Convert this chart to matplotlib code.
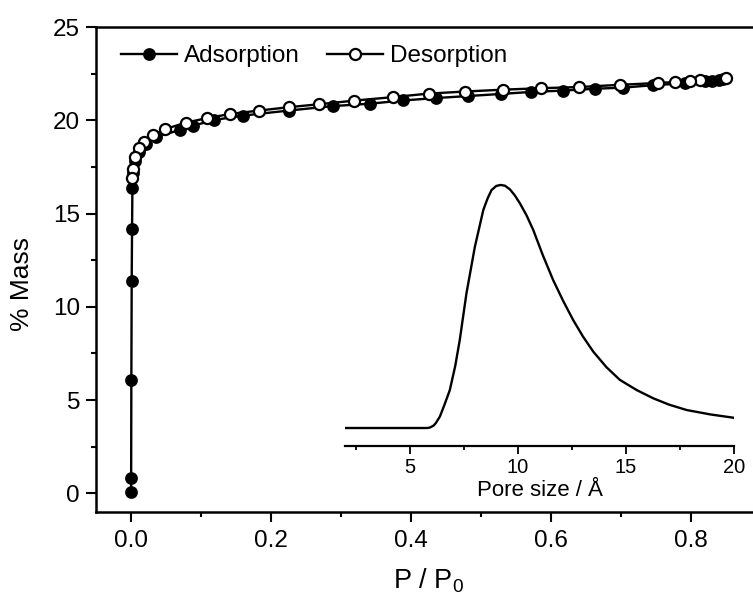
import matplotlib
matplotlib.use("Agg")
import matplotlib.pyplot as plt
from matplotlib.ticker import MultipleLocator

plt.rcParams['font.family'] = ['Liberation Sans', 'DejaVu Sans']
plt.rcParams['mathtext.default'] = 'regular'

# Adsorption (filled) isotherm
ads_p = [0.0001, 0.0002, 0.0005, 0.001, 0.0015, 0.002, 0.003, 0.006, 0.012, 0.022, 0.035,
         0.070, 0.089, 0.118, 0.160, 0.225, 0.288, 0.342, 0.388, 0.435, 0.482, 0.528,
         0.572, 0.617, 0.663, 0.703, 0.746, 0.791, 0.820, 0.830, 0.840, 0.846]
ads_m = [0.05, 0.84, 6.07, 11.41, 14.17, 16.35, 17.2, 17.8, 18.3, 18.75, 19.1,
         19.48, 19.71, 20.01, 20.25, 20.52, 20.76, 20.89, 21.06, 21.19, 21.30, 21.41,
         21.52, 21.59, 21.69, 21.75, 21.88, 21.98, 22.08, 22.12, 22.18, 22.20]

# Desorption (open) isotherm
des_p = [0.850, 0.813, 0.798, 0.777, 0.753, 0.698, 0.640, 0.586, 0.531, 0.477, 0.425,
         0.374, 0.318, 0.269, 0.225, 0.183, 0.142, 0.108, 0.079, 0.049, 0.031, 0.019,
         0.012, 0.0064, 0.0024, 0.001]
des_m = [22.28, 22.16, 22.10, 22.05, 22.00, 21.90, 21.78, 21.72, 21.64, 21.54, 21.43,
         21.24, 21.05, 20.86, 20.70, 20.52, 20.34, 20.11, 19.88, 19.53, 19.20, 18.85,
         18.52, 18.05, 17.38, 16.93]

# Inset: pore size distribution (normalised)
pore_size = [2.0, 3.0, 4.0, 5.0, 5.5, 5.8, 5.93, 6.1, 6.2, 6.39, 6.6, 6.85, 7.1, 7.31, 7.62,
             8.01, 8.40, 8.6, 8.78, 9.0, 9.20, 9.4, 9.63, 9.85, 10.09, 10.4, 10.71, 11.15,
             11.63, 12.1, 12.56, 13.0, 13.49, 14.1, 14.72, 15.5, 16.27, 17.0, 17.81, 18.9, 20.0]
pore_dist = [0.0, 0.0, 0.0, 0.0, 0.0, 0.0, 0.002, 0.01, 0.02, 0.047, 0.095, 0.156, 0.255, 0.362, 0.554,
             0.746, 0.897, 0.945, 0.979, 0.996, 1.0, 0.997, 0.982, 0.958, 0.925, 0.875, 0.815, 0.712,
             0.609, 0.522, 0.444, 0.378, 0.314, 0.250, 0.198, 0.156, 0.122, 0.096, 0.074, 0.056, 0.042]

W, H = 753, 604
fig = plt.figure(figsize=(W / 100, H / 100), dpi=100)

ax = fig.add_axes([96 / W, (H - 512) / H, (761 - 96) / W, (512 - 27) / H])
ax.plot(ads_p, ads_m, '-o', color='black', lw=1.7, ms=8.0, mfc='black', mec='black',
        mew=1.2, label='Adsorption', zorder=3)
ax.plot(des_p, des_m, '-o', color='black', lw=1.7, ms=8.0, mfc='white', mec='black',
        mew=1.6, label='Desorption', zorder=4)

ax.set_xlim(-0.05, 0.9)
ax.set_ylim(-1, 25)
ax.xaxis.set_major_locator(MultipleLocator(0.2))
ax.xaxis.set_minor_locator(MultipleLocator(0.1))
ax.yaxis.set_major_locator(MultipleLocator(5))
ax.yaxis.set_minor_locator(MultipleLocator(2.5))
ax.xaxis.set_major_formatter(matplotlib.ticker.FormatStrFormatter('%.1f'))
ax.tick_params(which='both', direction='out', top=False, right=False, width=1.5,
               labelsize=17.5)
ax.tick_params(which='major', length=7.5, pad=4)
ax.tick_params(which='minor', length=3.5)
ax.tick_params(axis='x', which='major', pad=5.5)
for s in ['left', 'bottom', 'top']:
    ax.spines[s].set_linewidth(1.8)
ax.spines['right'].set_visible(False)

ax.set_ylabel('% Mass', fontsize=19)
ax.yaxis.set_label_coords(-0.093, 0.47)
ax.set_xlabel('P / P$_{0}$', fontsize=19.5)
ax.xaxis.set_label_coords(0.5, -0.112)

ax.legend(loc='center left', bbox_to_anchor=((121 - 96) / 665, (512 - 56) / 485),
          ncol=2, frameon=False, fontsize=17.5, borderpad=0, borderaxespad=0,
          handlelength=2.3, handletextpad=0.3, columnspacing=1.1)

# Inset
ins = fig.add_axes([345 / W, (H - 446) / H, (734 - 345) / W, (446 - 175) / H])
ins.patch.set_alpha(0)
ins.plot(pore_size, pore_dist, color='black', lw=1.7)
ins.set_xlim(2, 20)
ins.set_ylim(-0.074, 1.041)
ins.xaxis.set_major_locator(MultipleLocator(5))
ins.xaxis.set_minor_locator(MultipleLocator(2.5))
ins.set_yticks([])
for s in ['left', 'right', 'top']:
    ins.spines[s].set_visible(False)
ins.spines['bottom'].set_linewidth(1.6)
ins.tick_params(which='both', direction='out', width=1.3, labelsize=14.5)
ins.tick_params(which='major', length=5.5, pad=3)
ins.tick_params(which='minor', length=2.8)
ins.set_xlabel('Pore size / Å', fontsize=16, labelpad=2)

fig.savefig('out.png', dpi=100)
